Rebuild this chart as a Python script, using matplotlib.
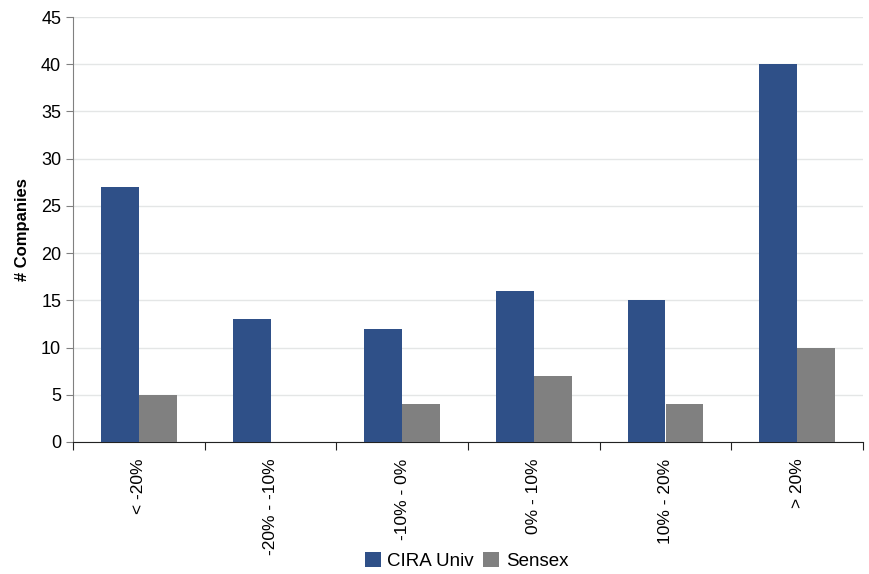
import matplotlib
matplotlib.use("Agg")
import matplotlib.pyplot as plt
import numpy as np
from matplotlib import font_manager

names = {f.name for f in font_manager.fontManager.ttflist}
family = "Liberation Sans Narrow" if "Liberation Sans Narrow" in names else "Liberation Sans"
plt.rcParams["font.family"] = [family, "DejaVu Sans"]

categories = ["< -20%", "-20% - -10%", "-10% - 0%", "0% - 10%", "10% - 20%", "> 20%"]
cira_univ = [27, 13, 12, 16, 15, 40]
sensex = [5, 0, 4, 7, 4, 10]

fig = plt.figure(figsize=(8.69, 5.74), dpi=100)
ax = fig.add_axes([73 / 869, 1 - 442 / 574, (863 - 73) / 869, (442 - 17) / 574])

x = np.arange(len(categories))
w = 0.288
ax.bar(x - w / 2, cira_univ, w, color="#2f5088", label="CIRA Univ", zorder=3)
ax.bar(x + w / 2, sensex, w, color="#808080", label="Sensex", zorder=3)

ax.set_xlim(-0.5, len(categories) - 0.5)
ax.set_ylim(0, 45)
ax.set_yticks(range(0, 46, 5))
ax.yaxis.grid(True, color="#e4e6e6", linewidth=1, zorder=0)
ax.set_axisbelow(True)

ax.set_xticks(np.arange(len(categories) + 1) - 0.5)
ax.set_xticklabels([])
ax.set_xticks(x, minor=True)
ax.set_xticklabels(categories, minor=True, rotation=90, fontsize=12.5)
ax.tick_params(axis="x", which="minor", length=0, pad=12)
ax.tick_params(axis="x", which="major", length=6, direction="out", color="#222222")
ax.tick_params(axis="y", labelsize=13, length=5, color="#808080", direction="out")

for s in ("top", "right"):
    ax.spines[s].set_visible(False)
ax.spines["left"].set_color("#808080")
ax.spines["bottom"].set_color("#222222")

ax.set_ylabel("# Companies", fontsize=12, fontweight="bold", labelpad=8)

fig.legend(loc="lower center", bbox_to_anchor=(0.537, -0.022), ncol=2, frameon=False,
           fontsize=13.5, handlelength=0.85, handleheight=0.85, handletextpad=0.35,
           columnspacing=0.5)

fig.savefig("out.png", dpi=100)
